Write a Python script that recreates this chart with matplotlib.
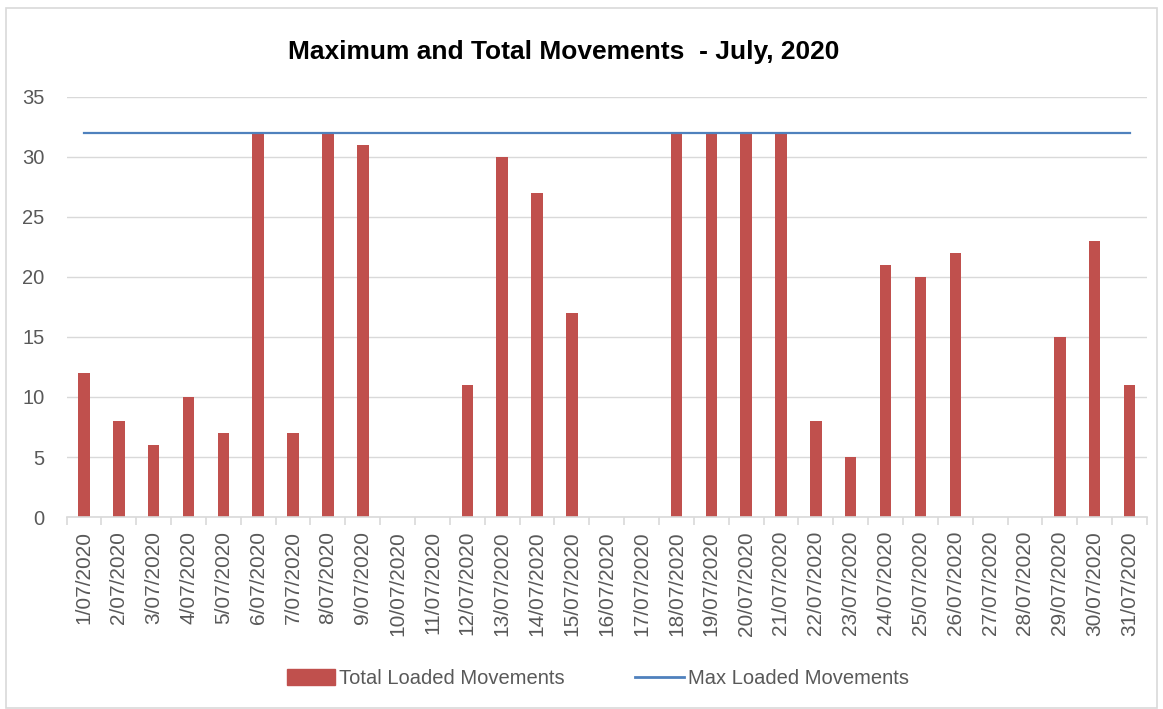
import matplotlib.pyplot as plt
import matplotlib.patches as mpatches
import numpy as np

plt.rcParams['font.family'] = ['Liberation Sans', 'DejaVu Sans']

# Datos
days = [f'{d}/07/2020' for d in range(1, 32)]
total_loaded = [12, 8, 6, 10, 7, 32, 7, 32, 31, 0, 0, 11, 30, 27, 17, 0, 0,
                32, 32, 32, 32, 8, 5, 21, 20, 22, 0, 0, 15, 23, 11]
max_loaded = [32] * 31

fig = plt.figure(figsize=(11.63, 7.09), dpi=100)
ax = fig.add_axes([0.0572, 0.2708, 0.9290, 0.5924])

x = np.arange(len(days))
ax.bar(x, total_loaded, width=0.33, color='#c0504d', zorder=2, label='Total Loaded Movements')
ax.plot(x, max_loaded, color='#4f81bd', linewidth=1.6, zorder=3, label='Max Loaded Movements')

ax.set_xlim(-0.5, len(days) - 0.5)
ax.set_ylim(0, 35)
ax.set_yticks(range(0, 36, 5))
ax.grid(axis='y', color='#d9d9d9', linewidth=1, zorder=0)

# Ejes estilo Excel
for s in ['top', 'right', 'left']:
    ax.spines[s].set_visible(False)
ax.spines['bottom'].set_color('#d9d9d9')
ax.spines['bottom'].set_linewidth(1.2)
ax.tick_params(axis='y', length=0, pad=16, labelsize=14.5, labelcolor='#595959')
ax.set_xticks(x)
ax.set_xticklabels(days, rotation=90, fontsize=15, color='#595959')
ax.tick_params(axis='x', which='major', length=0, pad=10)
ax.set_xticks(np.arange(-0.5, len(days), 1), minor=True)
ax.tick_params(axis='x', which='minor', length=6, color='#d9d9d9', width=1.2)

ax.set_title('Maximum and Total Movements  - July, 2020', fontsize=19,
             fontweight='bold', pad=27, x=0.46)

# Leyenda
handles = [mpatches.Patch(color='#c0504d', label='Total Loaded Movements'),
           plt.Line2D([], [], color='#4f81bd', linewidth=2, label='Max Loaded Movements')]
fig.legend(handles=handles, loc='center', bbox_to_anchor=(0.514, 0.043), ncol=2,
           frameon=False, fontsize=14.5, labelcolor='#595959', handlelength=2.4,
           handleheight=0.8, columnspacing=3.5, handletextpad=0.2)

# Borde del gráfico
fig.patches.append(mpatches.Rectangle((0.005, 0.002), 0.99, 0.987, transform=fig.transFigure,
                                      fill=False, edgecolor='#d9d9d9', linewidth=1.2))

plt.savefig('out.png', dpi=100)
